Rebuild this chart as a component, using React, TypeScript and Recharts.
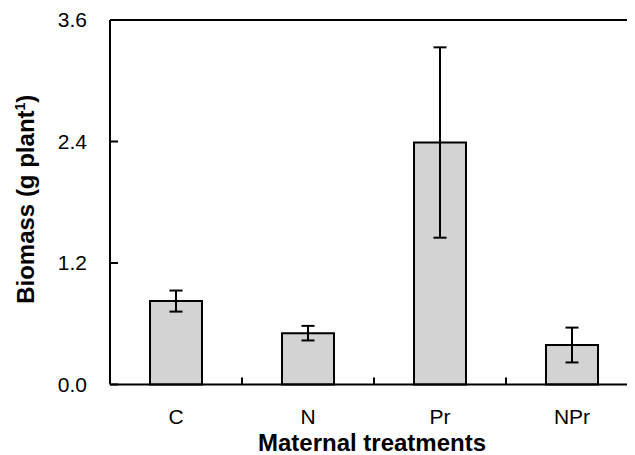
import React, { useEffect } from 'react';
import { BarChart, Bar, XAxis, YAxis, ErrorBar, ReferenceLine } from 'recharts';

const categories = ['C', 'N', 'Pr', 'NPr'];
const biomass = [0.824, 0.507, 2.39, 0.39];
const sem = [0.104, 0.072, 0.94, 0.172];
const yTicks = [0, 1.2, 2.4, 3.6];
const xTicks = [0.5, 1, 1.5, 2, 2.5, 3, 3.5];

const data = categories.map((c, i) => ({ pos: i + 0.5, name: c, biomass: biomass[i], err: sem[i] }));

const FONT = 'Liberation Sans, Arial, Helvetica, sans-serif';

const XTick = (props: any) => {
  const { x, y, payload } = props;
  const v = payload.value as number;
  if (Number.isInteger(v)) {
    return <line x1={x} x2={x} y1={y} y2={y - 7} stroke="#000" strokeWidth={2} />;
  }
  return (
    <text x={x} y={y + 39.5} textAnchor="middle" fontSize={21} fontFamily={FONT} fill="#000">
      {categories[Math.floor(v)]}
    </text>
  );
};

const XLabel = (props: any) => {
  const { x, y, width } = props.viewBox;
  return (
    <text x={x + width / 2 - 2} y={y + 66.5} textAnchor="middle" fontSize={24} fontWeight="bold" fontFamily={FONT} fill="#000">
      Maternal treatments
    </text>
  );
};

const YLabel = (props: any) => {
  const { x, y, height } = props.viewBox;
  const cx = x + 25.5;
  const cy = y + height / 2 - 3;
  return (
    <text
      x={cx}
      y={cy}
      transform={`rotate(-90 ${cx} ${cy})`}
      textAnchor="middle"
      fontSize={24}
      fontWeight="bold"
      fontFamily={FONT}
      fill="#000"
    >
      Biomass (g plant
      <tspan dy={-9} fontSize={14}>1</tspan>
      <tspan dy={9}>)</tspan>
    </text>
  );
};

export default function App() {
  useEffect(() => {
    document.documentElement.style.overflow = 'hidden';
    document.body.style.overflow = 'hidden';
  }, []);
  return (
    <div style={{ width: 627, overflow: 'hidden' }}>
      <BarChart width={660} height={447} data={data} margin={{ top: 12, right: 30, bottom: 0, left: 0 }}>
        <XAxis
          type="number"
          dataKey="pos"
          domain={[0, 4]}
          ticks={xTicks}
          interval={0}
          tickLine={false}
          tickSize={0}
          tickMargin={0}
          tick={<XTick />}
          axisLine={{ stroke: '#000', strokeWidth: 2 }}
          height={70.5}
          label={<XLabel />}
        />
        <YAxis
          type="number"
          domain={[0, 3.6]}
          ticks={yTicks}
          interval={0}
          width={102}
          tickFormatter={(v: number) => v.toFixed(1)}
          tickSize={-8}
          tickMargin={31}
          tick={{ fontSize: 21, fill: '#000', fontFamily: FONT }}
          tickLine={{ stroke: '#000', strokeWidth: 2 }}
          axisLine={{ stroke: '#000', strokeWidth: 2 }}
          label={<YLabel />}
        />
        <ReferenceLine y={3.6} stroke="#000" strokeWidth={2} />
        <ReferenceLine x={4} stroke="#000" strokeWidth={2} />
        <Bar dataKey="biomass" fill="#d3d3d3" stroke="#000" strokeWidth={2} barSize={52} isAnimationActive={false}>
          <ErrorBar dataKey="err" width={6.5} stroke="#000" strokeWidth={2} direction="y" />
        </Bar>
      </BarChart>
    </div>
  );
}
